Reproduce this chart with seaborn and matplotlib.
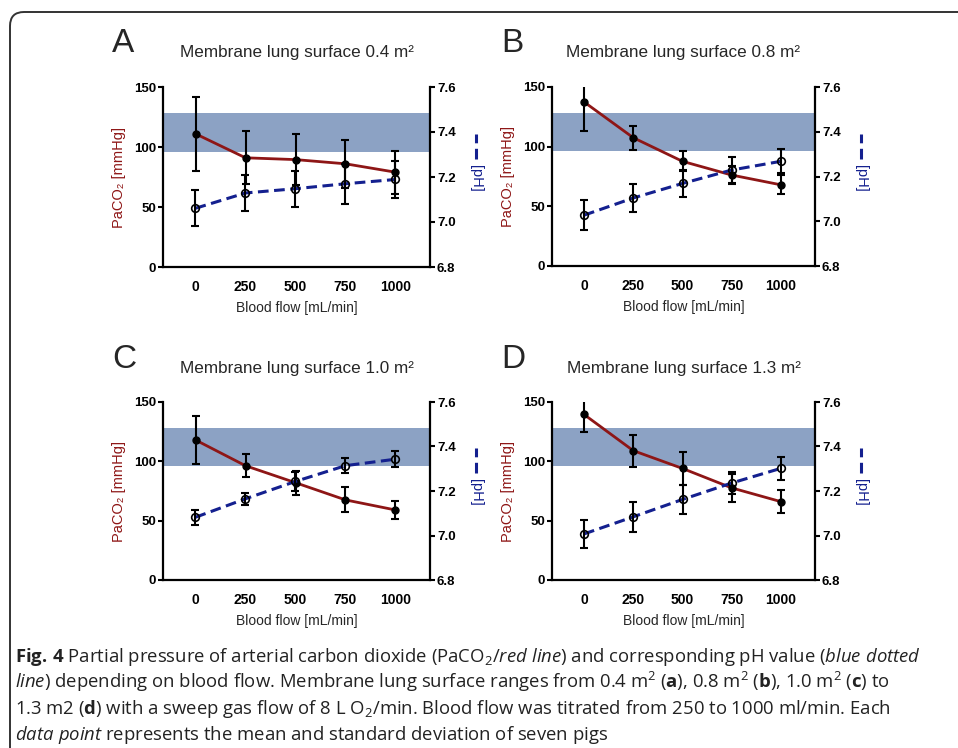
import numpy as np
import pandas as pd
import seaborn as sns
import matplotlib.pyplot as plt
from matplotlib.patches import FancyBboxPatch
from matplotlib.lines import Line2D
from matplotlib.transforms import IdentityTransform

sns.set_style("white")
plt.rcParams["font.family"] = ["Liberation Sans", "DejaVu Sans"]
plt.rcParams["mathtext.fontset"] = "custom"
plt.rcParams["mathtext.rm"] = "Open Sans"
plt.rcParams["mathtext.it"] = "Open Sans:italic"
plt.rcParams["mathtext.bf"] = "Open Sans:bold"

flow = ["0", "250", "500", "750", "1000"]
panels = ["A", "B", "C", "D"]
surfaces = ["0.4", "0.8", "1.0", "1.3"]

# PaCO2 mean / SD [mmHg]
paco2_a = [111, 91, 89.5, 86, 79]
paco2_a_sd = [31, 22, 21.5, 20, 18]
paco2_b = [137.5, 107.5, 87.7, 76.2, 68]
paco2_b_sd = [24, 10, 8.5, 7.5, 8]
paco2_c = [118, 96.3, 82, 67.5, 59]
paco2_c_sd = [20, 9.7, 10, 10.5, 7.8]
paco2_d = [139.5, 109, 94, 77.6, 66]
paco2_d_sd = [15, 13.4, 13.6, 11.5, 9.6]

# pH mean / SD
ph_a = [7.061, 7.129, 7.148, 7.170, 7.189]
ph_a_sd = [0.080, 0.080, 0.080, 0.090, 0.083]
ph_b = [7.027, 7.104, 7.169, 7.229, 7.268]
ph_b_sd = [0.067, 0.061, 0.059, 0.057, 0.053]
ph_c = [7.082, 7.165, 7.243, 7.314, 7.343]
ph_c_sd = [0.034, 0.027, 0.041, 0.034, 0.037]
ph_d = [7.007, 7.084, 7.162, 7.236, 7.302]
ph_d_sd = [0.062, 0.067, 0.064, 0.048, 0.051]

band_low, band_high = 96, 128

paco2_all = [(paco2_a, paco2_a_sd), (paco2_b, paco2_b_sd), (paco2_c, paco2_c_sd), (paco2_d, paco2_d_sd)]
ph_all = [(ph_a, ph_a_sd), (ph_b, ph_b_sd), (ph_c, ph_c_sd), (ph_d, ph_d_sd)]

RED = "#8e1616"
BLUE = "#14208f"
BAND = "#8ca2c4"

W, H = 958, 748
fig = plt.figure(figsize=(W / 100, H / 100), dpi=100)

# axes boxes in pixels: left, top, right, bottom
boxes = [(163, 87, 430, 267), (552, 87, 815, 266), (163, 402, 430, 580), (552, 402, 815, 580)]

for i, (l, t, r, b) in enumerate(boxes):
    ax = fig.add_axes([l / W, 1 - b / H, (r - l) / W, (b - t) / H])
    ax2 = ax.twinx()
    x = np.arange(len(flow))
    pc, pc_sd = paco2_all[i]
    ph, ph_sd = ph_all[i]
    df = pd.DataFrame({"x": x, "paco2": pc, "ph": ph})

    ax.axhspan(band_low, band_high, color=BAND, lw=0, zorder=0)
    sns.lineplot(data=df, x="x", y="paco2", ax=ax, color=RED, lw=2, zorder=2)
    ax.errorbar(x, pc, yerr=pc_sd, fmt="none", ecolor="black", elinewidth=1.5,
                capsize=3, capthick=1.5, zorder=3)
    ax.plot(x, pc, "o", color="black", ms=5, zorder=4)

    sns.lineplot(data=df, x="x", y="ph", ax=ax2, color=BLUE, lw=2.2, zorder=2)
    ax2.lines[-1].set_dashes([3.5, 1.8])
    ax2.errorbar(x, ph, yerr=ph_sd, fmt="none", ecolor="black", elinewidth=1.5,
                 capsize=3, capthick=1.5, zorder=3)
    ax2.plot(x, ph, "o", mfc="none", mec="black", mew=1.2, ms=5.5, zorder=4)

    ax.set_xlim(-0.65, 4.69)
    ax.set_ylim(0, 150)
    ax2.set_ylim(6.8, 7.6)
    ax.set_yticks([0, 50, 100, 150])
    ax2.set_yticks([6.8, 7.0, 7.2, 7.4, 7.6])
    ax2.set_yticklabels(["6.8", "7.0", "7.2", "7.4", "7.6"])
    ax.set_xticks(x)
    ax.set_xticklabels(flow)

    for a in (ax, ax2):
        a.set_facecolor("none")
        for s in a.spines.values():
            s.set_linewidth(1.6)
            s.set_color("black")
        a.spines["top"].set_visible(False)
        a.tick_params(width=1.5, length=3.5, direction="out", labelsize=9.5, pad=1.5, colors="black")
        for lab in a.get_xticklabels() + a.get_yticklabels():
            lab.set_fontweight("bold")
        a.set_xlabel("")
        a.set_ylabel("")
    ax.spines["right"].set_visible(False)
    ax2.spines["left"].set_visible(False)
    ax2.spines["bottom"].set_visible(False)
    ax.tick_params(axis="x", length=3.5, pad=6, labelsize=10)
    ax.tick_params(axis="y", left=True)
    ax2.tick_params(axis="y", right=True)

    ax.set_xlabel("Blood flow [mL/min]", fontsize=10, labelpad=5)
    ax.set_ylabel("PaCO₂ [mmHg]", fontsize=10.5, color=RED, labelpad=6)

    # right axis title with dashed symbol
    cy = 1 - (t + b) / 2 / H
    lx = (r + 46) / W
    fig.text(lx, cy - 0.002, "[pH]", rotation=270, color=BLUE, fontsize=10.5,
             ha="center", va="center")
    sy0 = 1 - (t + b) / 2 / H + 18 / H
    fig.add_artist(Line2D([lx, lx], [sy0, sy0 + 25 / H], color=BLUE, lw=2.2,
                          dashes=[3.5, 1.8], transform=fig.transFigure))

    fig.text((l + r) / 2 / W, 1 - (t - 34) / H,
             f"Membrane lung surface {surfaces[i]} m²", fontsize=12.3,
             ha="center", va="center")
    fig.text((l - 51) / W, 1 - (t - 46) / H - 3 / H, panels[i], fontsize=24,
             ha="left", va="center")

# border frame
frame = FancyBboxPatch((10, -60), 1100, H - 12 + 60, boxstyle="round,pad=0,rounding_size=14",
                       fc="none", ec="#333333", lw=1.4, transform=IdentityTransform())
fig.add_artist(frame)

cap_lines = [
    r"$\mathbf{Fig.\,4}$ Partial pressure of arterial carbon dioxide (PaCO$_2$/$\mathit{red\ line}$) and corresponding pH value ($\mathit{blue\ dotted}$",
    r"$\mathit{line}$) depending on blood flow. Membrane lung surface ranges from 0.4 m$^2$ ($\mathbf{a}$), 0.8 m$^2$ ($\mathbf{b}$), 1.0 m$^2$ ($\mathbf{c}$) to",
    r"1.3 m2 ($\mathbf{d}$) with a sweep gas flow of 8 L O$_2$/min. Blood flow was titrated from 250 to 1000 ml/min. Each",
    r"$\mathit{data\ point}$ represents the mean and standard deviation of seven pigs",
]
for k, line in enumerate(cap_lines):
    fig.text(15 / W, 1 - (662 + 26 * k) / H, line, fontsize=13.3, family=["Open Sans", "DejaVu Sans"],
             ha="left", va="baseline", color="#222222")

fig.savefig("out.png", dpi=100)
